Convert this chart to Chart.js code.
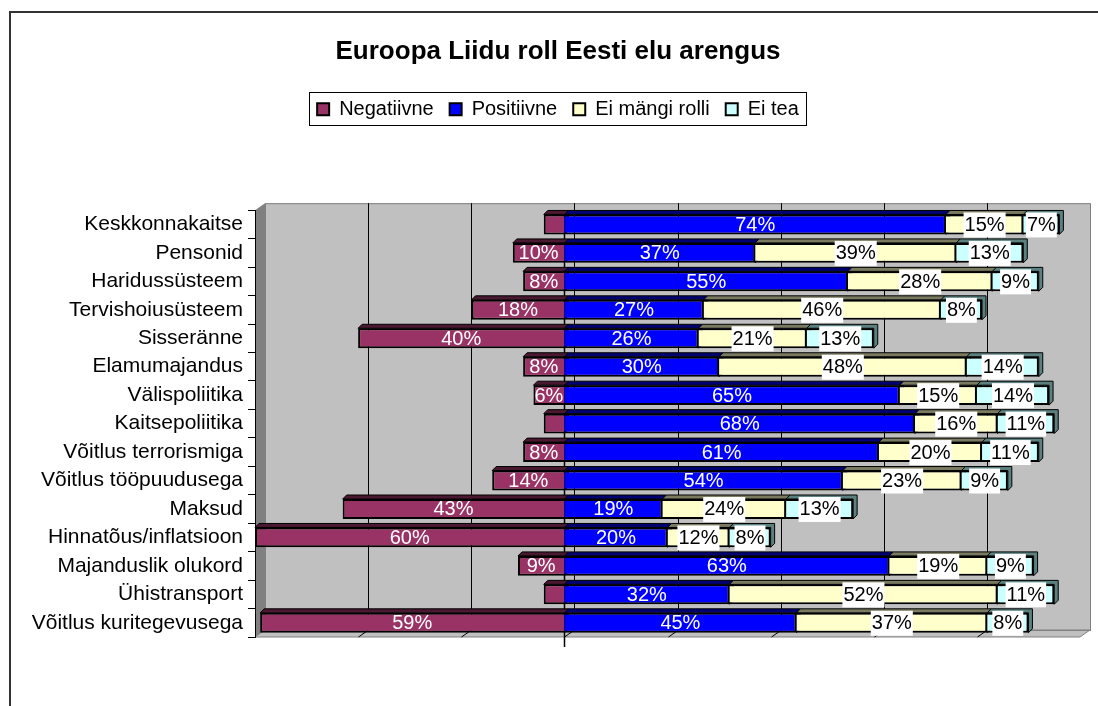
<!DOCTYPE html>
<html>
<head>
<meta charset="utf-8">
<script src="https://cdn.jsdelivr.net/npm/chart.js@4.4.0/dist/chart.umd.min.js"></script>
<style>
  html, body { margin: 0; padding: 0; background: #fff; }
  #wrap { width: 1098px; height: 706px; }
</style>
</head>
<body>
<div id="wrap"><canvas id="chart" width="1098" height="706"></canvas></div>
<script>
const categories = ['Keskkonnakaitse', 'Pensonid', 'Haridussüsteem', 'Tervishoiusüsteem', 'Sisseränne',
    'Elamumajandus', 'Välispoliitika', 'Kaitsepoliitika', 'Võitlus terrorismiga', 'Võitlus tööpuudusega',
    'Maksud', 'Hinnatõus/inflatsioon', 'Majanduslik olukord', 'Ühistransport', 'Võitlus kuritegevusega'];
const negatiivne = [4, 10, 8, 18, 40, 8, 6, 4, 8, 14, 43, 60, 9, 4, 59];
const positiivne = [74, 37, 55, 27, 26, 30, 65, 68, 61, 54, 19, 20, 63, 32, 45];
const eiMangiRolli = [15, 39, 28, 46, 21, 48, 15, 16, 20, 23, 24, 12, 19, 52, 37];
const eiTea = [7, 13, 9, 8, 13, 14, 14, 11, 11, 9, 13, 8, 9, 11, 8];
const seriesNames = ['Negatiivne', 'Positiivne', 'Ei mängi rolli', 'Ei tea'];
const axisMin = -60, axisMax = 100, gridStep = 20;

const FONT = '"Liberation Sans", Arial, sans-serif';
const fills = ['#993366', '#0000FF', '#FFFFCC', '#CCFFFF'];
const sides = ['#4a1830', '#000070', '#7a7a60', '#5a8080'];
const DX = 10, DY = -7;   // depth of the walls
const BD = 4;             // depth of the bars

// walls, floor, gridlines and the outer frame
const wallsPlugin = {
    id: 'walls',
    beforeDraw(chart) {
        const ctx = chart.ctx;
        const a = chart.chartArea;
        const xs = chart.scales.x;
        ctx.save();

        ctx.strokeStyle = '#333';
        ctx.lineWidth = 2;
        ctx.beginPath();
        ctx.moveTo(10, 706);
        ctx.lineTo(10, 12);
        ctx.lineTo(1098, 12);
        ctx.stroke();

        // back wall
        ctx.fillStyle = '#C0C0C0';
        ctx.fillRect(a.left + DX, a.top + DY, a.right - a.left, a.bottom - a.top);
        // left wall
        ctx.fillStyle = '#808080';
        ctx.beginPath();
        ctx.moveTo(a.left, a.top);
        ctx.lineTo(a.left + DX, a.top + DY);
        ctx.lineTo(a.left + DX, a.bottom + DY);
        ctx.lineTo(a.left, a.bottom);
        ctx.closePath();
        ctx.fill();
        // floor
        ctx.fillStyle = '#C0C0C0';
        ctx.strokeStyle = '#808080';
        ctx.lineWidth = 1;
        ctx.beginPath();
        ctx.moveTo(a.left, a.bottom);
        ctx.lineTo(a.left + DX, a.bottom + DY);
        ctx.lineTo(a.right + DX, a.bottom + DY);
        ctx.lineTo(a.right, a.bottom);
        ctx.closePath();
        ctx.fill();
        ctx.stroke();
        ctx.strokeRect(a.left + DX + 0.5, a.top + DY + 0.5, a.right - a.left, a.bottom - a.top);

        // gridlines on back wall and floor
        ctx.strokeStyle = '#000';
        ctx.lineWidth = 1;
        for (let v = axisMin + gridStep; v < axisMax; v += gridStep) {
            const xf = Math.round(xs.getPixelForValue(v)) + 0.5;
            ctx.beginPath();
            ctx.moveTo(xf + DX, a.top + DY);
            ctx.lineTo(xf + DX, a.bottom + DY);
            ctx.lineTo(xf, a.bottom);
            ctx.stroke();
        }
        ctx.restore();
    },
    beforeDatasetsDraw(chart) {
        const ctx = chart.ctx;
        const a = chart.chartArea;
        const x0 = Math.round(chart.scales.x.getPixelForValue(0)) + 0.5;
        ctx.save();
        ctx.strokeStyle = '#000';
        ctx.lineWidth = 1.5;
        ctx.beginPath();
        ctx.moveTo(x0, a.top);
        ctx.lineTo(x0, a.bottom + 10);
        ctx.stroke();

        // top and end faces of the bars
        ctx.lineWidth = 1;
        chart.data.datasets.forEach((ds, di) => {
            chart.getDatasetMeta(di).data.forEach(el => {
                const p = el.getProps(['x', 'y', 'base', 'height'], true);
                const l = Math.min(p.x, p.base), r = Math.max(p.x, p.base);
                const t = p.y - p.height / 2, b = p.y + p.height / 2;
                ctx.fillStyle = sides[di];
                ctx.beginPath();
                ctx.moveTo(l, t);
                ctx.lineTo(l + BD, t - BD);
                ctx.lineTo(r + BD, t - BD);
                ctx.lineTo(r + BD, b - BD);
                ctx.lineTo(r, b);
                ctx.lineTo(r, t);
                ctx.closePath();
                ctx.fill();
                ctx.stroke();
            });
        });
        ctx.restore();
    },
    afterDatasetsDraw(chart) {
        const ctx = chart.ctx;
        ctx.save();
        ctx.font = '20px ' + FONT;
        ctx.textAlign = 'center';
        ctx.textBaseline = 'middle';
        chart.data.datasets.forEach((ds, di) => {
            chart.getDatasetMeta(di).data.forEach((el, i) => {
                const v = Math.abs(ds.data[i]);
                if (v < 5) return;
                const p = el.getProps(['x', 'y', 'base'], true);
                const cx = (p.x + p.base) / 2;
                const txt = v + '%';
                if (di < 2) {
                    ctx.fillStyle = '#fff';
                } else {
                    const w = ctx.measureText(txt).width;
                    ctx.fillStyle = '#fff';
                    ctx.fillRect(cx - w / 2 - 1, p.y - 12, w + 2, 25);
                    ctx.fillStyle = '#000';
                }
                ctx.fillText(txt, cx, p.y + 1);
            });
        });
        ctx.restore();
    },
    afterDraw(chart) {
        const boxes = chart.legend.legendHitBoxes;
        if (!boxes || !boxes.length) return;
        const ctx = chart.ctx;
        let l = Infinity, r = -Infinity, t = Infinity, b = -Infinity;
        boxes.forEach(h => {
            l = Math.min(l, h.left);
            r = Math.max(r, h.left + h.width);
            t = Math.min(t, h.top);
            b = Math.max(b, h.top + h.height);
        });
        ctx.save();
        ctx.strokeStyle = '#000';
        ctx.lineWidth = 1;
        ctx.strokeRect(Math.round(l - 8) + 0.5, Math.round(t - 7) + 0.5, Math.round(r - l + 15), Math.round(b - t + 13));
        ctx.restore();
    }
};

const seriesValues = [negatiivne.map(v => -v), positiivne, eiMangiRolli, eiTea];

new Chart(document.getElementById('chart').getContext('2d'), {
    type: 'bar',
    data: {
        labels: categories,
        datasets: seriesNames.map((name, i) => ({
            label: name,
            data: seriesValues[i],
            yAxisID: 'y',
            backgroundColor: fills[i],
            borderColor: '#000',
            borderWidth: 2,
            barPercentage: 0.7,
            categoryPercentage: 1
        }))
    },
    options: {
        responsive: false,
        animation: false,
        indexAxis: 'y',
        layout: {padding: {left: 18, right: 0, top: 0, bottom: 69}},
        scales: {
            x: {
                position: 'top',
                stacked: true,
                min: axisMin,
                max: axisMax,
                grid: {display: false},
                border: {display: false},
                ticks: {display: false},
                afterFit: s => { s.height = 81; }
            },
            y: {
                stacked: true,
                grid: {offset: true, drawOnChartArea: false, tickLength: 7, color: '#000'},
                border: {color: '#000', width: 1},
                ticks: {font: {size: 21, family: FONT}, color: '#000', padding: 5, autoSkip: false},
                afterFit: s => { s.width = 237; }
            },
            yRight: {
                axis: 'y',
                type: 'category',
                position: 'right',
                grid: {display: false},
                border: {display: false},
                ticks: {display: false},
                afterFit: s => { s.width = 18; }
            }
        },
        plugins: {
            title: {
                display: true,
                text: 'Euroopa Liidu roll Eesti elu arengus',
                color: '#000',
                font: {size: 26, weight: 'bold', family: FONT},
                padding: {top: 36, bottom: 16}
            },
            legend: {
                labels: {boxWidth: 12, boxHeight: 12, padding: 16, color: '#000', font: {size: 20, family: FONT}}
            },
            tooltip: {enabled: false}
        }
    },
    plugins: [wallsPlugin]
});
</script>
</body>
</html>
